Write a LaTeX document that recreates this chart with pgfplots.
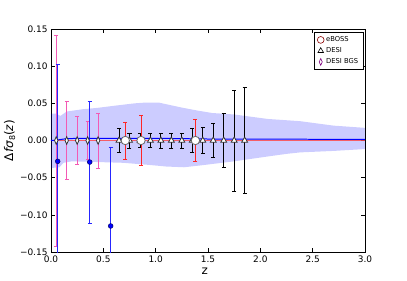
\documentclass[border=0pt]{standalone}
\usepackage{fontspec}
\setmainfont{DejaVu Sans}
\usepackage{pgfplots}
\usepackage{pgfplotstable}
\pgfplotsset{compat=1.18}
\pgfplotstableread{
z y e
0.064 -0.028 0.131
0.37 -0.029 0.082
0.57 -0.115 0.106
}\current
\pgfplotstableread{
z y e
0.05 0 0.142
0.15 0 0.052
0.25 0 0.032
0.35 0 0.026
0.45 0 0.037
}\bgs
\pgfplotstableread{
z y e
0.65 0 0.016
0.75 0 0.010
0.85 0 0.009
0.95 0 0.009
1.05 0 0.010
1.15 0 0.010
1.25 0 0.010
1.35 0 0.016
1.45 0 0.018
1.55 0 0.023
1.65 0 0.036
1.75 0 0.068
1.85 0 0.071
}\desi
\pgfplotstableread{
z y e
0.71 0 0.025
0.86 0 0.034
1.38 0 0.028
}\eboss
\begin{document}
\begin{tikzpicture}
\useasboundingbox (-51bp,-29bp) rectangle (356bp,252bp);
\begin{axis}[
  scale only axis, width=314bp, height=223bp,
  at={(0,0)}, anchor=south west,
  xmin=0, xmax=3, ymin=-0.15, ymax=0.15,
  xtick={0,0.5,1,1.5,2,2.5,3},
  xticklabels={0.0,0.5,1.0,1.5,2.0,2.5,3.0},
  ytick={-0.15,-0.1,-0.05,0,0.05,0.1,0.15},
  yticklabels={−0.15,−0.10,−0.05,0.00,0.05,0.10,0.15},
  tick align=inside, major tick length=4bp,
  tick style={black, line width=0.6pt},
  ticklabel style={font=\fontsize{9}{10}\selectfont},
  axis line style={black, line width=0.8pt},
  xlabel={z}, ylabel={Δ\textit{fσ}\raisebox{-0.3ex}{\fontsize{8}{8}\selectfont 8}(\textit{z})},
  label style={font=\fontsize{12}{13}\selectfont},
  xlabel style={at={(ticklabel cs:0.49)}, anchor=north, yshift=1bp},
  ylabel style={yshift=-2bp},
  legend style={at={(0.995,0.985)}, anchor=north east, font=\fontsize{6.8}{7}\selectfont,
    draw=black, line width=0.6pt, inner xsep=3pt, inner ysep=2pt, row sep=0.5pt},
  legend cell align=left,
  errbar/.style={forget plot, draw=none, mark=none,
    error bars/.cd, y dir=both, y explicit,
    error bar style={color=#1, line width=0.9pt},
    error mark options={rotate=90, color=#1, mark size=2bp, line width=0.8pt}},
]
\addlegendimage{only marks, mark=o, mark size=3.4bp, mark options={draw=red!55!black, line width=0.6pt}}
\addlegendentry{eBOSS}
\addlegendimage{only marks, mark=triangle, mark size=3.2bp, mark options={draw=black, line width=0.6pt}}
\addlegendentry{DESI}
\addlegendimage{only marks, mark=diamond, mark size=3.4bp, mark options={draw=violet, xscale=0.6, line width=0.6pt}}
\addlegendentry{DESI BGS}

% forecast band
\addplot[forget plot, draw=none, fill=blue, fill opacity=0.2] coordinates {
 (0,0.036) (0.05,0.036) (0.09,0.033) (0.15,0.039) (0.3,0.042) (0.45,0.044) (0.62,0.047)
 (0.8,0.050) (0.9,0.051) (1.03,0.051) (1.16,0.047) (1.26,0.044) (1.41,0.040) (1.54,0.037)
 (1.75,0.035) (2.07,0.029) (2.38,0.026) (2.7,0.020) (3.0,0.017)
 (3.0,-0.0115) (2.7,-0.014) (2.38,-0.016) (2.25,-0.018) (2.07,-0.0215) (1.75,-0.028)
 (1.43,-0.0335) (1.27,-0.036) (1.1,-0.035) (0.95,-0.033) (0.69,-0.030) (0.45,-0.029)
 (0.2,-0.028) (0.12,-0.030) (0.08,-0.036) (0,-0.037)
};
% error bars
\addplot[errbar={magenta!65}] table[x=z, y=y, y error=e] {\bgs};
\addplot[errbar={blue!85}] table[x=z, y=y, y error=e] {\current};
\addplot[errbar=black] table[x=z, y=y, y error=e] {\desi};
\addplot[errbar={red!85}] table[x=z, y=y, y error=e] {\eboss};
% fiducial line
\addplot[forget plot, color=red!70, opacity=0.85, line width=2pt] coordinates {(0,0) (3,0)};
% model line
\addplot[forget plot, color=blue, line width=1pt] coordinates {
 (0,0.0) (0.05,0.0005) (0.15,0.0025) (0.3,0.003) (1.0,0.003) (1.5,0.002) (3.0,0.0015)};
% markers
\addplot[forget plot, only marks, mark=*, mark size=2.4bp, draw=blue!40!black, fill=blue,
  mark options={solid, fill=blue, draw=blue!40!black, line width=0.5pt}]
  table[x=z, y=y] {\current};
\addplot[forget plot, only marks, mark=diamond*, mark size=3.8bp, draw=black!80, fill=white,
  mark options={solid, fill=white, draw=black!80, xscale=0.6, line width=0.8pt}]
  table[x=z, y=y] {\bgs};
\addplot[forget plot, only marks, mark=triangle*, mark size=3.4bp, draw=black!80, fill=white,
  mark options={solid, fill=white, draw=black!80, line width=0.8pt}]
  table[x=z, y=y] {\desi};
\addplot[forget plot, only marks, mark=*, mark size=4.2bp, draw=black!60, fill=white,
  mark options={solid, fill=white, draw=black!60, line width=0.8pt}]
  table[x=z, y=y] {\eboss};
\end{axis}
\end{tikzpicture}
\end{document}
